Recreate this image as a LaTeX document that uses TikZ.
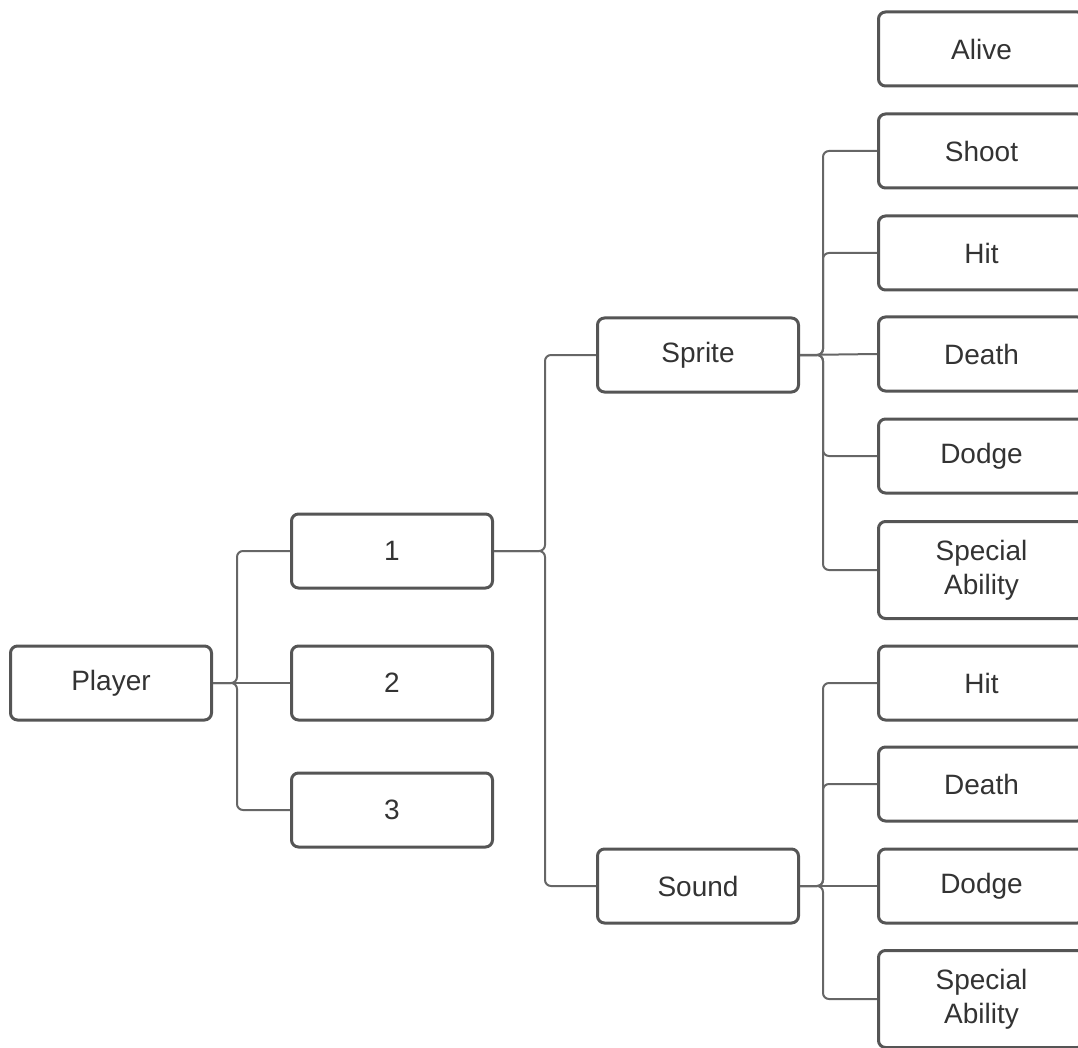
\documentclass[tikz,border=0pt]{standalone}
\usepackage{fontspec}
\setmainfont{Liberation Sans}
\definecolor{boxline}{HTML}{555555}
\definecolor{connline}{HTML}{666666}
\definecolor{labeltext}{HTML}{333333}
\begin{document}
\begin{tikzpicture}[x=1pt,y=-1pt,
  itembox/.style={draw=boxline, line width=3pt, rounded corners=7pt, fill=white,
    minimum width=201pt, minimum height=74pt, inner sep=0pt, align=center,
    text=labeltext, font=\fontsize{28}{34}\selectfont},
  tallbox/.style={itembox, minimum height=97pt},
  statebox/.style={itembox, minimum width=206pt},
  tallstate/.style={tallbox, minimum width=206pt},
  conn/.style={draw=connline, line width=2pt, rounded corners=6pt}]
\useasboundingbox (0,0) rectangle (1078,1048);
\clip (0,0) rectangle (1078,1048);

% junction points of the connector trunks
\coordinate (busP) at (237,683);
\coordinate (busO) at (545,551);
\coordinate (busS) at (823,355);
\coordinate (busD) at (823,886);

% level one
\node[itembox] (player) at (111,683) {Player};
\node[itembox] (n1) at (392,551) {1};
\node[itembox] (n2) at (392,683) {2};
\node[itembox] (n3) at (392,810) {3};

% level two
\node[itembox] (sprite) at (698,355) {Sprite};
\node[itembox] (sound) at (698,886) {Sound};

% sprite states
\node[statebox] (alive) at (981.5,49) {Alive};
\node[statebox] (shoot) at (981.5,151) {Shoot};
\node[statebox] (hit) at (981.5,253) {Hit};
\node[statebox] (death) at (981.5,354) {Death};
\node[statebox] (dodge) at (981.5,456) {Dodge};
\node[tallstate] (special) at (981.5,570) {Special\\Ability};

% sound states
\node[statebox] (shit) at (981.5,683) {Hit};
\node[statebox] (sdeath) at (981.5,784) {Death};
\node[statebox] (sdodge) at (981.5,886) {Dodge};
\node[tallstate] (sspecial) at (981.5,999) {Special\\Ability};

% player to its numbers
\draw[conn] (player.east) -- (busP) |- (n1.west);
\draw[conn] (player.east) -- (n2.west);
\draw[conn] (player.east) -- (busP) |- (n3.west);

% number 1 to sprite and sound
\draw[conn] (n1.east) -- (busO) |- (sprite.west);
\draw[conn] (n1.east) -- (busO) |- (sound.west);

% sprite to its states
\draw[conn] (sprite.east) -- (busS) |- (shoot.west);
\draw[conn] (sprite.east) -- (busS) |- (hit.west);
\draw[conn] (sprite.east) -- (death.west);
\draw[conn] (sprite.east) -- (busS) |- (dodge.west);
\draw[conn] (sprite.east) -- (busS) |- (special.west);

% sound to its states
\draw[conn] (sound.east) -- (busD) |- (shit.west);
\draw[conn] (sound.east) -- (busD) |- (sdeath.west);
\draw[conn] (sound.east) -- (sdodge.west);
\draw[conn] (sound.east) -- (busD) |- (sspecial.west);
\end{tikzpicture}
\end{document}
